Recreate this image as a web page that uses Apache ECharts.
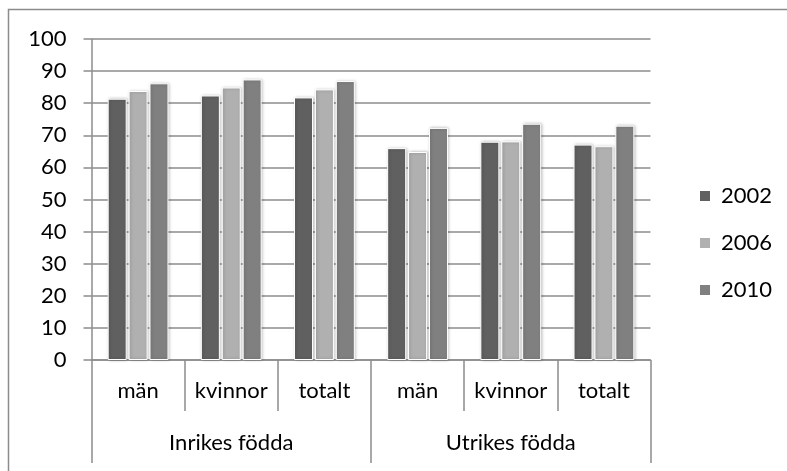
<!DOCTYPE html>
<html>
<head>
<meta charset="utf-8">
<script src="https://cdn.jsdelivr.net/npm/echarts@6/dist/echarts.min.js"></script>
<style>html,body{margin:0;padding:0;background:#fff;}#c{width:787px;height:471px;}</style>
</head>
<body>
<div id="c"></div>
<script>
var categories = ['män', 'kvinnor', 'totalt', 'män', 'kvinnor', 'totalt'];
var groups = ['Inrikes födda', 'Utrikes födda'];
var seriesNames = ['2002', '2006', '2010'];
var values2002 = [81.4, 82.4, 81.8, 66.0, 68.0, 67.1];
var values2006 = [83.8, 84.9, 84.3, 64.8, 68.1, 66.6];
var values2010 = [86.2, 87.4, 86.9, 72.3, 73.6, 73.0];
var yTicks = [0, 10, 20, 30, 40, 50, 60, 70, 80, 90, 100];

var colors = ['#606060', '#b0b0b0', '#808080'];
var font = 'Lato, "Open Sans", sans-serif';
var gridColor = '#8c8c8c';
var fs = 22;

function mk(name, data, i) {
  return {
    name: name, type: 'bar', data: data, xAxisIndex: 0,
    barWidth: 19, barGap: '10%',
    itemStyle: { color: colors[i], borderColor: '#ffffff', borderWidth: 1,
      shadowBlur: 3, shadowColor: 'rgba(0,0,0,0.25)', shadowOffsetX: 1, shadowOffsetY: 0 }
  };
}

var chart = echarts.init(document.getElementById('c'), null, { renderer: 'canvas' });
chart.setOption({
  animation: false,
  backgroundColor: '#ffffff',
  textStyle: { fontFamily: font },
  graphic: [{
    type: 'rect', shape: { x: 8.5, y: 9.5, width: 900, height: 600 },
    style: { fill: 'none', stroke: '#8c8c8c', lineWidth: 1.5 }, z: -1
  }],
  grid: { left: 91.5, right: 787 - 650.5, top: 39, bottom: 471 - 360, containLabel: false },
  legend: {
    orient: 'vertical', left: 693, top: 180,
    itemWidth: 12, itemHeight: 12, itemGap: 25,
    icon: 'rect',
    textStyle: { fontSize: fs, color: '#000', fontFamily: font, padding: [0, 0, 0, 5] },
    data: seriesNames
  },
  xAxis: [{
    type: 'category', data: categories, position: 'bottom',
    axisLine: { show: true, lineStyle: { color: gridColor, width: 1.5 } },
    axisTick: { show: true, interval: 0, length: 51, lineStyle: { color: gridColor, width: 1.5 } },
    axisLabel: { interval: 0, hideOverlap: false, fontSize: fs, color: '#000', margin: 20, fontFamily: font },
    splitLine: { show: false }
  }, {
    type: 'category', data: groups, position: 'bottom', offset: 51,
    axisLine: { show: false },
    axisTick: { show: true, interval: 0, length: 52, lineStyle: { color: gridColor, width: 1.5 } },
    axisLabel: { interval: 0, fontSize: fs, color: '#000', margin: 21, fontFamily: font },
    splitLine: { show: false }
  }],
  yAxis: {
    type: 'value', min: yTicks[0], max: yTicks[yTicks.length - 1], interval: 10,
    axisLine: { show: true, lineStyle: { color: gridColor, width: 1.5 } },
    axisTick: { show: true, length: 8, lineStyle: { color: gridColor, width: 1.5 } },
    axisLabel: { fontSize: fs, color: '#000', margin: 25, fontFamily: font },
    splitLine: { show: true, lineStyle: { color: gridColor, width: 1.5 } }
  },
  series: [mk(seriesNames[0], values2002, 0), mk(seriesNames[1], values2006, 1), mk(seriesNames[2], values2010, 2)]
});
</script>
</body>
</html>
